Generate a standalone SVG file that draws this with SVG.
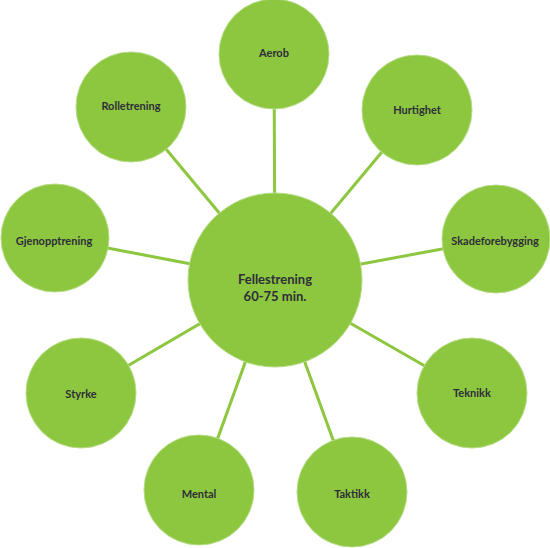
<svg xmlns="http://www.w3.org/2000/svg" width="550" height="548" viewBox="0 0 550 548">
<style>
.c{fill:#8dc63f;stroke:#b5dc85;stroke-width:1}
.l{stroke:#8dc63f;stroke-width:3;fill:none}
.t{font-family:Lato,"Liberation Sans",sans-serif;font-weight:bold;font-size:11px;fill:#2e2e3a;text-anchor:middle;dominant-baseline:central}
.tc{font-size:13px}
</style>
<rect width="550" height="548" fill="#ffffff"/>
<g id="connectors">
<line class="l" x1="275" y1="280" x2="274" y2="54"/>
<line class="l" x1="275" y1="280" x2="417" y2="110"/>
<line class="l" x1="275" y1="280" x2="496" y2="239"/>
<line class="l" x1="275" y1="280" x2="472" y2="393"/>
<line class="l" x1="275" y1="280" x2="352" y2="492"/>
<line class="l" x1="275" y1="280" x2="199" y2="490"/>
<line class="l" x1="275" y1="280" x2="81" y2="393"/>
<line class="l" x1="275" y1="280" x2="55" y2="238"/>
<line class="l" x1="275" y1="280" x2="131" y2="107"/>
</g>
<g id="center"><circle class="c" cx="275" cy="280" r="87"/><text class="t tc" x="275" y="279">Fellestrening</text><text class="t tc" x="275" y="296">60-75 min.</text></g>
<g id="aerob"><circle class="c" cx="274" cy="54" r="55"/><text class="t" x="274" y="52">Aerob</text></g>
<g id="hurtighet"><circle class="c" cx="417" cy="110" r="55"/><text class="t" x="417" y="109">Hurtighet</text></g>
<g id="skadeforebygging"><circle class="c" cx="496" cy="239" r="54"/><text class="t" x="495" y="240">Skadeforebygging</text></g>
<g id="teknikk"><circle class="c" cx="472" cy="393" r="55"/><text class="t" x="472" y="392">Teknikk</text></g>
<g id="taktikk"><circle class="c" cx="352" cy="492" r="55"/><text class="t" x="352" y="493">Taktikk</text></g>
<g id="mental"><circle class="c" cx="199" cy="490" r="55"/><text class="t" x="199" y="493">Mental</text></g>
<g id="styrke"><circle class="c" cx="81" cy="393" r="55"/><text class="t" x="81" y="393">Styrke</text></g>
<g id="gjenopptrening"><circle class="c" cx="55" cy="238" r="54"/><text class="t" x="54" y="240">Gjenopptrening</text></g>
<g id="rolletrening"><circle class="c" cx="131" cy="107" r="55"/><text class="t" x="131" y="105">Rolletrening</text></g>
</svg>
